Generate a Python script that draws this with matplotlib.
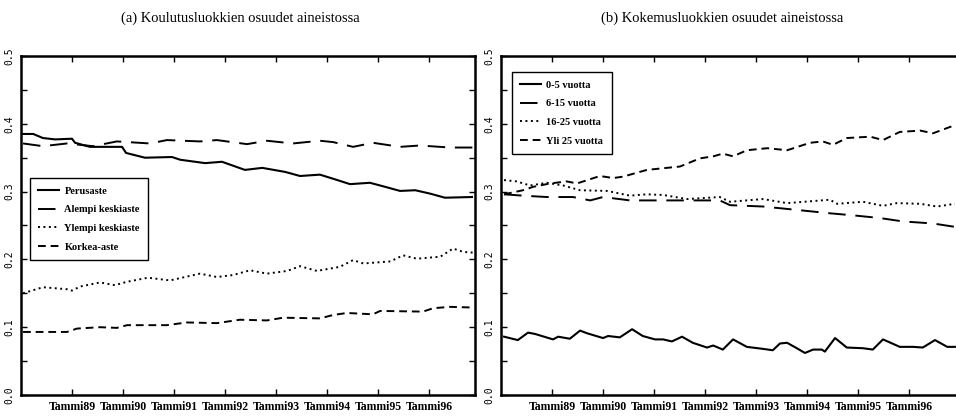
import matplotlib
matplotlib.use("Agg")
import matplotlib.pyplot as plt
from matplotlib.ticker import MultipleLocator

# (a) education shares, x in decimal years
paru_x = [1988.04, 1988.24, 1988.43, 1988.67, 1989.00, 1989.06, 1989.35, 1989.98, 1990.06, 1990.43,
          1990.96, 1991.12, 1991.61, 1991.94, 1992.39, 1992.73, 1993.18, 1993.47, 1993.86, 1994.16,
          1994.45, 1994.84, 1995.14, 1995.43, 1995.73, 1996.02, 1996.31, 1996.84]
paru_y = [0.385, 0.385, 0.379, 0.377, 0.378, 0.372, 0.366, 0.366, 0.357, 0.350,
          0.351, 0.347, 0.342, 0.344, 0.332, 0.335, 0.329, 0.323, 0.325, 0.318,
          0.311, 0.313, 0.307, 0.301, 0.302, 0.297, 0.291, 0.292]

alempi_x = [1988.04, 1988.43, 1988.90, 1989.41, 1989.88, 1990.53, 1990.86, 1991.51, 1991.84, 1992.43,
            1992.82, 1993.33, 1993.86, 1994.12, 1994.51, 1994.90, 1995.43, 1995.82, 1996.41, 1996.86]
alempi_y = [0.371, 0.367, 0.371, 0.367, 0.374, 0.371, 0.376, 0.374, 0.376, 0.370,
            0.375, 0.371, 0.375, 0.373, 0.366, 0.372, 0.366, 0.368, 0.365, 0.365]

ylempi_x = [1988.04, 1988.43, 1988.90, 1989.00, 1989.16, 1989.55, 1989.84, 1990.08, 1990.49, 1990.92,
            1991.51, 1991.84, 1992.16, 1992.49, 1992.82, 1993.22, 1993.47, 1993.80, 1994.25, 1994.51,
            1994.71, 1995.24, 1995.49, 1995.76, 1996.22, 1996.47, 1996.67, 1996.86]
ylempi_y = [0.150, 0.159, 0.156, 0.154, 0.160, 0.166, 0.162, 0.167, 0.173, 0.169,
            0.179, 0.174, 0.177, 0.184, 0.179, 0.183, 0.190, 0.183, 0.189, 0.199,
            0.194, 0.197, 0.206, 0.201, 0.204, 0.216, 0.211, 0.210]

korkea_x = [1988.04, 1988.90, 1989.10, 1989.55, 1989.88, 1990.08, 1990.86, 1991.25, 1991.84, 1992.29,
            1992.82, 1993.14, 1993.86, 1994.12, 1994.39, 1994.90, 1995.04, 1995.88, 1996.08, 1996.41,
            1996.86]
korkea_y = [0.093, 0.093, 0.098, 0.100, 0.099, 0.103, 0.103, 0.107, 0.106, 0.111,
            0.110, 0.114, 0.113, 0.118, 0.121, 0.119, 0.124, 0.123, 0.128, 0.130,
            0.129]

# (b) experience shares
k05_x = [1988.06, 1988.33, 1988.53, 1988.67, 1989.02, 1989.12, 1989.35, 1989.55, 1989.69, 1990.00,
         1990.10, 1990.33, 1990.57, 1990.78, 1991.02, 1991.18, 1991.35, 1991.55, 1991.76, 1992.04,
         1992.16, 1992.35, 1992.55, 1992.82, 1993.14, 1993.33, 1993.47, 1993.61, 1993.80, 1993.96,
         1994.12, 1994.29, 1994.35, 1994.55, 1994.78, 1995.10, 1995.29, 1995.49, 1995.82, 1996.08,
         1996.27, 1996.51, 1996.75, 1996.90]
k05_y = [0.086, 0.081, 0.092, 0.090, 0.082, 0.086, 0.083, 0.095, 0.091, 0.084,
         0.087, 0.085, 0.097, 0.087, 0.082, 0.082, 0.079, 0.086, 0.077, 0.070,
         0.073, 0.067, 0.082, 0.071, 0.068, 0.066, 0.076, 0.077, 0.069, 0.062,
         0.067, 0.067, 0.064, 0.084, 0.070, 0.069, 0.067, 0.082, 0.071, 0.071,
         0.070, 0.081, 0.071, 0.071]

k615_x = [1988.06, 1988.43, 1988.90, 1989.41, 1989.75, 1990.00, 1990.53, 1991.18, 1992.29, 1992.49,
          1993.14, 1993.80, 1994.45, 1994.90, 1995.43, 1995.88, 1996.47, 1996.90]
k615_y = [0.296, 0.294, 0.292, 0.292, 0.287, 0.292, 0.287, 0.287, 0.287, 0.280,
          0.278, 0.273, 0.268, 0.265, 0.261, 0.256, 0.253, 0.248]

k1625_x = [1988.06, 1988.31, 1988.57, 1988.90, 1989.22, 1989.55, 1990.08, 1990.53, 1990.86, 1991.18,
           1991.65, 1992.29, 1992.49, 1993.14, 1993.61, 1994.45, 1994.59, 1995.10, 1995.49, 1995.76,
           1996.22, 1996.55, 1996.90]
k1625_y = [0.317, 0.315, 0.309, 0.313, 0.309, 0.302, 0.301, 0.294, 0.296, 0.295,
           0.289, 0.292, 0.285, 0.289, 0.283, 0.288, 0.282, 0.285, 0.279, 0.283,
           0.282, 0.278, 0.282]

yli25_x = [1988.06, 1988.43, 1988.63, 1988.96, 1989.29, 1989.49, 1989.94, 1990.20, 1990.39, 1990.86,
           1991.51, 1991.90, 1992.16, 1992.35, 1992.55, 1992.82, 1993.22, 1993.61, 1994.06, 1994.31,
           1994.51, 1994.78, 1995.24, 1995.49, 1995.82, 1996.22, 1996.47, 1996.90]
yli25_y = [0.296, 0.302, 0.307, 0.312, 0.315, 0.312, 0.323, 0.320, 0.322, 0.332,
           0.337, 0.349, 0.352, 0.356, 0.352, 0.361, 0.364, 0.361, 0.372, 0.374,
           0.369, 0.379, 0.381, 0.376, 0.388, 0.390, 0.386, 0.398]

years = [1989, 1990, 1991, 1992, 1993, 1994, 1995, 1996]
year_labels = ["Tammi89", "Tammi90", "Tammi91", "Tammi92", "Tammi93", "Tammi94", "Tammi95", "Tammi96"]

SERIF = ["Liberation Serif", "DejaVu Serif"]

fig = plt.figure(figsize=(9.56, 4.16), dpi=100)
ax1 = fig.add_axes([21 / 956, 21 / 416, 454 / 956, 339 / 416])
# right panel runs off the image edge, as in the scan
ax2 = fig.add_axes([501 / 956, 21 / 416, 460 / 956, 339 / 416])

LONG = (0, (9, 5))
SHORT = (0, (4, 2.5))
DOT = (0, (1, 1.8))

ax1.plot(paru_x, paru_y, color="black", lw=1.5, ls="-", label="Perusaste")
ax1.plot(alempi_x, alempi_y, color="black", lw=1.4, ls=LONG, label="Alempi keskiaste")
ax1.plot(ylempi_x, ylempi_y, color="black", lw=1.4, ls=DOT, label="Ylempi keskiaste")
ax1.plot(korkea_x, korkea_y, color="black", lw=1.4, ls=SHORT, label="Korkea-aste")

ax2.plot(k05_x, k05_y, color="black", lw=1.5, ls="-", label="0-5 vuotta")
ax2.plot(k615_x, k615_y, color="black", lw=1.4, ls=LONG, label="6-15 vuotta")
ax2.plot(k1625_x, k1625_y, color="black", lw=1.4, ls=DOT, label="16-25 vuotta")
ax2.plot(yli25_x, yli25_y, color="black", lw=1.4, ls=SHORT, label="Yli 25 vuotta")

ax1.set_xlim(1988.0, 1996.9)
ax2.set_xlim(1988.0, 1988.0 + 460 / 51)

for ax in [ax1, ax2]:
    ax.set_ylim(0, 0.5)
    ax.set_xticks(years)
    ax.set_xticklabels(year_labels, family=SERIF, fontsize=8.5, fontweight="bold")
    ax.yaxis.set_major_locator(MultipleLocator(0.1))
    ax.yaxis.set_minor_locator(MultipleLocator(0.05))
    ax.set_yticklabels([f"{v:.1f}" for v in ax.get_yticks()], rotation=90, va="center",
                       family="DejaVu Sans Mono", fontsize=7)
    ax.tick_params(axis="both", which="both", direction="in", top=True, right=True,
                   length=4, width=1, color="black")
    ax.tick_params(axis="x", pad=4)
    ax.tick_params(axis="y", pad=5)
    for s in ax.spines.values():
        s.set_linewidth(1.8)
ax2.tick_params(axis="y", which="both", right=False)

fig.text(240 / 956, 1 - 18 / 416, "(a) Koulutusluokkien osuudet aineistossa",
         ha="center", va="center", family=SERIF, fontsize=10.5)
fig.text(722 / 956, 1 - 18 / 416, "(b) Kokemusluokkien osuudet aineistossa",
         ha="center", va="center", family=SERIF, fontsize=10.5)

for ax, anchor in [(ax1, (0.02, 0.64)), (ax2, (0.024, 0.953))]:
    leg = ax.legend(loc="upper left", bbox_to_anchor=anchor, borderaxespad=0,
                    prop={"family": SERIF, "size": 7.5, "weight": "bold"},
                    fancybox=False, edgecolor="black", framealpha=1,
                    handlelength=2.0, handletextpad=0.5, labelspacing=0.9, borderpad=0.8)
    leg.get_frame().set_linewidth(1.0)

fig.savefig("out.png", dpi=100)
